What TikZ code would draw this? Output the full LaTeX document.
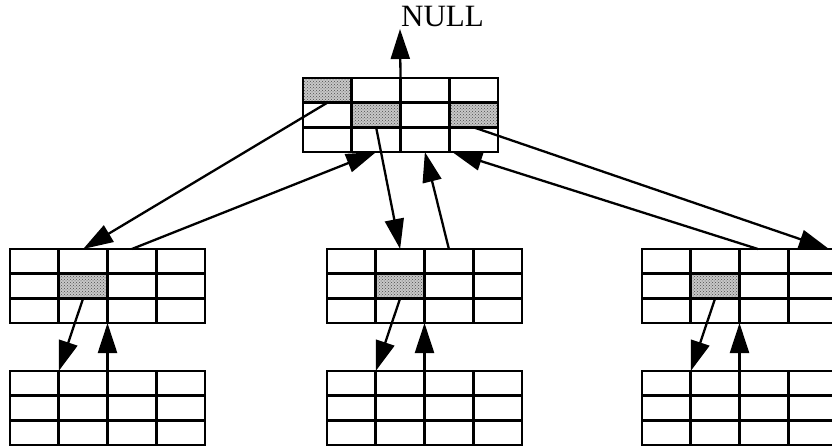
\documentclass[tikz,border=0pt]{standalone}
\usepackage{fontspec}
\setmainfont{Liberation Serif}
\usetikzlibrary{arrows.meta,calc,backgrounds,patterns}

\tikzset{
  cell/.style={draw, line width=2.8pt, minimum width=48.75pt, minimum height=24.67pt,
               inner sep=0pt, outer sep=0pt},
  link/.style={line width=2.3pt, -{Triangle[length=30pt,width=19pt]}},
  label/.style={font=\fontsize{31}{31}\selectfont, inner sep=0pt, anchor=base west}
}

% a record of 3 x 4 cells; #1 name, #2 left edge, #3 top edge
\newcommand\record[3]{%
  \foreach \r in {0,1,2}{%
    \foreach \c in {0,1,2,3}{%
      \node[cell] (#1-\r-\c) at ({#2+\c*48.75+24.375},{#3+\r*24.67+12.335}) {};
    }%
  }%
}

\begin{document}
\begin{tikzpicture}[x=1pt,y=-1pt]
  \useasboundingbox (0,0) rectangle (832,446);
  \clip (0,0) rectangle (832,446);

  \record{top}{303}{78}
  \record{midL}{10}{249}
  \record{midM}{327}{249}
  \record{midR}{642}{249}
  \record{botL}{10}{371}
  \record{botM}{327}{371}
  \record{botR}{642}{371}

  % stippled cells
  \begin{scope}[on background layer]
    \foreach \n in {top-0-0,top-1-1,top-1-3,midL-1-1,midM-1-1,midR-1-1}{
      \fill[black!22] (\n.south west) rectangle (\n.north east);
      \fill[pattern=crosshatch dots, pattern color=black!70] (\n.south west) rectangle (\n.north east);
    }
  \end{scope}

  % parent pointer of the root
  \coordinate (nulltip) at (400,29);
  \draw[link] (top-0-2.north west) -- (nulltip);
  \node[label] (null) at (401,27) {NULL};

  % links between the root and its children
  \draw[link] (top-0-0.south) -- (midL-0-1.north);
  \draw[link] (midL-0-2.north) -- (top-2-1.south);
  \draw[link] (top-1-1.south) -- (midM-0-1.north);
  \draw[link] (midM-0-2.north) -- (top-2-2.south);
  \draw[link] ($(midR-0-2.north)+(-6,0)$) -- ($(top-2-3.south west)+(3,0)$);
  \draw[link] (top-1-3.south) -- ($(midR-0-3.north east)+(-8,0)$);

  % links between the children and the next level
  \draw[link] (midL-1-1.south) -- (botL-0-1.north west);
  \draw[link] (botL-0-2.north west) -- (midL-2-2.south west);
  \draw[link] (midM-1-1.south) -- (botM-0-1.north west);
  \draw[link] (botM-0-2.north west) -- (midM-2-2.south west);
  \draw[link] (midR-1-1.south) -- (botR-0-1.north west);
  \draw[link] (botR-0-2.north west) -- (midR-2-2.south west);
\end{tikzpicture}
\end{document}
